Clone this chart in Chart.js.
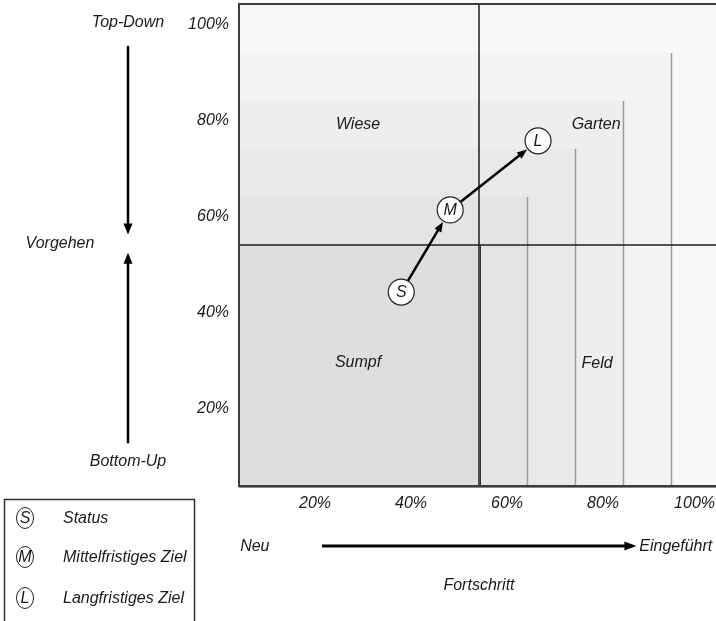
<!DOCTYPE html>
<html>
<head>
<meta charset="utf-8">
<style>
html,body{margin:0;padding:0;overflow:hidden;background:#fff;width:716px;height:621px;}
canvas{display:block;}
</style>
<script src="https://cdn.jsdelivr.net/npm/chart.js@4/dist/chart.umd.min.js"></script>
</head>
<body>
<canvas id="c" width="724" height="621"></canvas>
<script>
// ---- data ----
const xTicks = [20, 40, 60, 80, 100];
const yTicks = [20, 40, 60, 80, 100];
const squareLevels = [100, 90, 80, 70, 60, 50];
const squareShades = ['#f8f8f8', '#f3f3f3', '#eeeeee', '#e9e9e9', '#e4e4e4', '#dedede'];
const edgeLevels = [60, 70, 80, 90];
const dividerValue = 50;
const pointLabels = ['S', 'M', 'L'];
const pointX = [33.8, 44.0, 62.3];
const pointY = [40.2, 57.3, 71.7];
const quadrantNames = ['Wiese', 'Garten', 'Sumpf', 'Feld'];
const quadrantX = [24.8, 74.4, 24.8, 74.6];
const quadrantY = [75, 75, 25.5, 25.2];
const legendLetters = ['S', 'M', 'L'];
const legendTexts = ['Status', 'Mittelfristiges Ziel', 'Langfristiges Ziel'];
const xAxisTitle = 'Fortschritt';
const xAxisStart = 'Neu';
const xAxisEnd = 'Eingeführt';
const yAxisTitle = 'Vorgehen';
const yAxisTop = 'Top-Down';
const yAxisBottom = 'Bottom-Up';

const FAMILY = '"Liberation Sans", Arial, sans-serif';
const FONT = 'italic 16px ' + FAMILY;
const TXT = '#1a1a1a';

function arrowHead(ctx, tx, ty, dx, dy, len, wid) {
  const nx = -dy, ny = dx;
  ctx.beginPath();
  ctx.moveTo(tx, ty);
  ctx.lineTo(tx - dx * len + nx * wid / 2, ty - dy * len + ny * wid / 2);
  ctx.lineTo(tx - dx * len - nx * wid / 2, ty - dy * len - ny * wid / 2);
  ctx.closePath();
  ctx.fill();
}
function arrow(ctx, x0, y0, x1, y1, lw, len, wid) {
  const L = Math.hypot(x1 - x0, y1 - y0);
  const dx = (x1 - x0) / L, dy = (y1 - y0) / L;
  ctx.lineWidth = lw;
  ctx.beginPath();
  ctx.moveTo(x0, y0);
  ctx.lineTo(x1 - dx * (len - 1), y1 - dy * (len - 1));
  ctx.stroke();
  arrowHead(ctx, x1, y1, dx, dy, len, wid);
}

const backdrop = {
  id: 'backdrop',
  beforeDatasetsDraw(chart) {
    const {ctx, chartArea: a, scales: {x, y}} = chart;
    ctx.save();
    const x0 = x.getPixelForValue(0), y0 = y.getPixelForValue(0);
    squareLevels.forEach((lv, i) => {
      const px = x.getPixelForValue(lv), py = y.getPixelForValue(lv);
      ctx.fillStyle = squareShades[i];
      ctx.fillRect(x0, py, px - x0, y0 - py);
    });
    ctx.strokeStyle = '#9a9a9a';
    ctx.lineWidth = 1.5;
    edgeLevels.forEach(lv => {
      const px = Math.round(x.getPixelForValue(lv)) + 0.5;
      ctx.beginPath();
      ctx.moveTo(px, y0);
      ctx.lineTo(px, y.getPixelForValue(lv));
      ctx.stroke();
    });
    // dividers
    ctx.strokeStyle = '#1e1e1e';
    ctx.lineWidth = 1.5;
    const dx = x.getPixelForValue(dividerValue), dy = y.getPixelForValue(dividerValue);
    ctx.beginPath();
    ctx.moveTo(dx, a.top); ctx.lineTo(dx, a.bottom);
    ctx.moveTo(a.left, dy); ctx.lineTo(a.right + 10, dy);
    ctx.stroke();
    ctx.strokeStyle = '#333';
    ctx.lineWidth = 1;
    ctx.beginPath();
    ctx.moveTo(dx + 1.5, dy); ctx.lineTo(dx + 1.5, a.bottom);
    ctx.stroke();
    // frame
    ctx.strokeStyle = '#3c3c3c';
    ctx.lineWidth = 2;
    ctx.beginPath();
    ctx.moveTo(a.right + 10, a.top - 1);
    ctx.lineTo(a.left, a.top - 1);
    ctx.lineTo(a.left, a.bottom + 1);
    ctx.lineTo(a.right + 10, a.bottom + 1);
    ctx.stroke();
    ctx.strokeStyle = '#888';
    ctx.lineWidth = 1;
    ctx.beginPath();
    ctx.moveTo(a.left, a.bottom + 2.5); ctx.lineTo(a.right + 10, a.bottom + 2.5);
    ctx.stroke();
    // quadrant names
    ctx.fillStyle = TXT;
    ctx.font = FONT;
    ctx.textAlign = 'center';
    ctx.textBaseline = 'middle';
    quadrantNames.forEach((n, i) => {
      ctx.fillText(n, x.getPixelForValue(quadrantX[i]), y.getPixelForValue(quadrantY[i]));
    });
    // arrows between points
    ctx.fillStyle = '#000';
    ctx.strokeStyle = '#000';
    const r = 13;
    for (let i = 0; i < pointX.length - 1; i++) {
      const ax = x.getPixelForValue(pointX[i]), ay = y.getPixelForValue(pointY[i]);
      const bx = x.getPixelForValue(pointX[i + 1]), by = y.getPixelForValue(pointY[i + 1]);
      const L = Math.hypot(bx - ax, by - ay);
      const ux = (bx - ax) / L, uy = (by - ay) / L;
      arrow(ctx, ax + ux * r, ay + uy * r, bx - ux * (r + 1), by - uy * (r + 1), 2.5, 10, 8);
    }
    ctx.restore();
  },
  afterDatasetsDraw(chart) {
    const {ctx, chartArea: a, scales: {x, y}} = chart;
    ctx.save();
    ctx.fillStyle = TXT;
    ctx.font = FONT;
    ctx.textAlign = 'center';
    ctx.textBaseline = 'middle';
    pointLabels.forEach((t, i) => {
      ctx.fillText(t, x.getPixelForValue(pointX[i]), y.getPixelForValue(pointY[i]) + 1);
    });
    // left side annotation
    const ax = a.left - 111;
    ctx.fillText(yAxisTop, ax, y.getPixelForValue(96.4));
    ctx.fillText(yAxisBottom, ax, y.getPixelForValue(4.8));
    ctx.fillText(yAxisTitle, a.left - 179, y.getPixelForValue(50.2));
    ctx.fillStyle = '#000';
    ctx.strokeStyle = '#000';
    arrow(ctx, ax, y.getPixelForValue(91.5), ax, y.getPixelForValue(52.2), 2.5, 11, 9);
    arrow(ctx, ax, y.getPixelForValue(8.7), ax, y.getPixelForValue(48.4), 2.5, 11, 9);
    // bottom annotation
    const by = a.bottom + 61;
    arrow(ctx, x.getPixelForValue(17.3), by, x.getPixelForValue(82.8), by, 3, 12, 9);
    ctx.fillStyle = TXT;
    ctx.fillText(xAxisStart, x.getPixelForValue(3.3), by + 1);
    ctx.textAlign = 'left';
    ctx.fillText(xAxisEnd, x.getPixelForValue(83.4), by + 1);
    ctx.textAlign = 'center';
    ctx.fillText(xAxisTitle, x.getPixelForValue(50), a.bottom + 101);
    // legend box
    ctx.strokeStyle = '#333';
    ctx.lineWidth = 1.5;
    ctx.strokeRect(4.5, 499.5, 190, 130);
    const legendY = [518, 557, 598];
    legendLetters.forEach((t, i) => {
      const cy = legendY[i];
      ctx.beginPath();
      ctx.ellipse(25, cy, 8.5, 10.5, 0, 0, Math.PI * 2);
      ctx.lineWidth = 1;
      ctx.strokeStyle = '#222';
      ctx.stroke();
      ctx.fillStyle = TXT;
      ctx.textAlign = 'center';
      ctx.fillText(t, 25, cy + 1);
      ctx.textAlign = 'left';
      ctx.fillText(legendTexts[i], 63, cy + 1);
    });
    ctx.restore();
  }
};

new Chart(document.getElementById('c'), {
  type: 'scatter',
  data: {
    datasets: [{
      data: pointX.map((v, i) => ({x: v, y: pointY[i]})),
      pointRadius: 13,
      pointHoverRadius: 13,
      backgroundColor: '#ffffff',
      borderColor: '#222',
      borderWidth: 1.2,
      showLine: false
    }]
  },
  options: {
    responsive: false,
    animation: false,
    devicePixelRatio: 1,
    layout: {autoPadding: false, padding: {left: 0, top: 5, right: 5, bottom: 0}},
    plugins: {legend: {display: false}, tooltip: {enabled: false}},
    scales: {
      x: {
        type: 'linear', min: 0, max: 100,
        afterBuildTicks: s => { s.ticks = xTicks.map(v => ({value: v})); },
        afterFit: s => { s.height = 136; s.paddingLeft = 0; s.paddingRight = 0; },
        grid: {display: false, drawTicks: false},
        border: {display: false},
        ticks: {
          align: 'end', labelOffset: -4, padding: 9,
          color: TXT,
          font: {family: FAMILY, size: 16, style: 'italic'},
          callback: v => v + '%'
        }
      },
      y: {
        type: 'linear', min: 0, max: 100,
        afterBuildTicks: s => { s.ticks = yTicks.map(v => ({value: v})); },
        afterFit: s => { s.width = 239; s.paddingTop = 0; s.paddingBottom = 0; },
        grid: {display: false, drawTicks: false},
        border: {display: false},
        ticks: {
          labelOffset: 20, padding: 10,
          color: TXT,
          font: {family: FAMILY, size: 16, style: 'italic'},
          callback: v => v + '%'
        }
      }
    }
  },
  plugins: [backdrop]
});
</script>
</body>
</html>
